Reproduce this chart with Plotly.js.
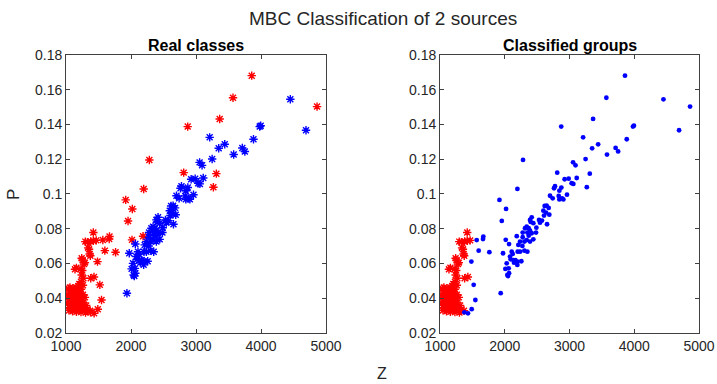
<!DOCTYPE html>
<html>
<head>
<meta charset="utf-8">
<script src="https://cdn.plot.ly/plotly-3.0.1.min.js"></script>
<style>html,body{margin:0;padding:0;background:#fff;}#chart{width:717px;height:384px;}</style>
</head>
<body>
<div id="chart"></div>
<script>
// Group A: real class 1, classified group 1
var zA = [1420,1297,1330,1380,1420,1465,1354,1340,1364,1374,1241,1255,1277,1290,1138,1160,1230,1250,1241,1267,1380,1430,1205,1230,1190,1260,
  1040,1060,1085,1110,1140,1170,1200,1230,1050,1075,1100,1125,1155,1185,1215,1260,1035,1065,1090,1120,1150,1180,1210,1245,1290,
  1040,1070,1100,1130,1160,1195,1230,1270,1030,1060,1090,1120,1150,1185,1220,1260,1310,1050,1080,1110,1140,1175,1210,1250,1290,1330,1370,
  1100,1160,1230,1300,1045];
var pA = [0.0778,0.0726,0.0722,0.0727,0.0730,0.0733,0.0682,0.0690,0.0655,0.0645,0.0630,0.0620,0.0597,0.0605,0.0567,0.0575,0.0570,0.0560,0.0534,0.0515,0.0515,0.0522,0.0482,0.0495,0.0470,0.0475,
  0.0455,0.0462,0.0450,0.0458,0.0448,0.0460,0.0445,0.0452,0.0435,0.0428,0.0440,0.0432,0.0425,0.0438,0.0430,0.0420,0.0415,0.0408,0.0418,0.0405,0.0412,0.0400,0.0410,0.0398,0.0405,
  0.0392,0.0385,0.0395,0.0380,0.0388,0.0378,0.0385,0.0375,0.0370,0.0362,0.0372,0.0358,0.0365,0.0355,0.0362,0.0350,0.0358,0.0345,0.0340,0.0348,0.0335,0.0342,0.0332,0.0338,0.0330,0.0335,0.0328,
  0.0325,0.0322,0.0320,0.0318,0.0330];
// Group B: real class 1, classified group 2
var zB = [3857,3569,3364,3313,3267,4862,2872,2282,2810,2195,1918,2020,1954,2185,2015,1669,1664,1566,1597,1762,1484,1520,1546,1489,1432,1376];
var pB = [0.1681,0.1554,0.1432,0.1117,0.1039,0.1503,0.1388,0.1196,0.1123,0.1029,0.0966,0.0914,0.0845,0.0757,0.0736,0.0755,0.0741,0.0735,0.0674,0.0665,0.0611,0.0477,0.0390,0.0337,0.0313,0.0319];
// Group C: real class 2, classified group 2
var zC = [4451,3995,3980,4692,3210,3884,3349,3442,3712,3751,3579,3248,3055,3093,3111,2925,2987,3033,3059,
  2874,2843,2761,2776,2699,2740,2833,2884,2905,2961,2843,
  2616,2647,2678,2596,2637,2688,2606,2529,2575,2544,2653,2488,
  2416,2390,2400,2441,2339,2369,2390,2313,2277,2349,2483,2416,2369,2441,2339,2303,2390,2236,2277,2210,2272,2199,2236,2303,2349,
  2066,1973,2107,2122,2081,2091,2133,2163,2199,2256,2143,2194,2030,2060,2009,2040,2050,2066,1937];
var pC = [0.1545,0.1393,0.1388,0.1367,0.1326,0.1315,0.1263,0.1286,0.1265,0.1245,0.1227,0.1201,0.1182,0.1165,0.1092,0.1085,0.1088,0.1062,0.1058,
  0.1037,0.1019,0.1033,0.1045,0.0990,0.0975,0.0989,0.0975,0.0969,0.0996,0.0969,
  0.0931,0.0933,0.0920,0.0904,0.0893,0.0881,0.0876,0.0851,0.0847,0.0835,0.0826,0.0806,
  0.0866,0.0851,0.0839,0.0832,0.0812,0.0803,0.0789,0.0803,0.0778,0.0778,0.0778,0.0774,0.0760,0.0739,0.0735,0.0726,0.0726,0.0726,0.0751,0.0707,0.0701,0.0668,0.0668,0.0674,0.0668,
  0.0712,0.0659,0.0668,0.0655,0.0640,0.0624,0.0620,0.0620,0.0611,0.0613,0.0605,0.0592,0.0601,0.0572,0.0569,0.0534,0.0528,0.0544,0.0429];

var xTicks = [1000,2000,3000,4000,5000];
var xTickText = ['1000','2000','3000','4000','5000'];
var yTicks = [0.02,0.04,0.06,0.08,0.1,0.12,0.14,0.16,0.18];
var yTickText = ['0.02','0.04','0.06','0.08','0.1','0.12','0.14','0.16','0.18'];

var RED = 'rgb(255,0,0)', BLUE = 'rgb(0,0,255)';
function star(c){return {symbol:'asterisk-open',size:7,color:c,line:{color:c,width:1.4}};}
function dot(c){return {symbol:'circle',size:4.8,color:c,line:{width:0}};}

var realRedZ = zA.concat(zB), realRedP = pA.concat(pB);
var grpBlueZ = zB.concat(zC), grpBlueP = pB.concat(pC);

var traces = [
  {x:realRedZ,y:realRedP,mode:'markers',type:'scatter',marker:star(RED),xaxis:'x',yaxis:'y',hoverinfo:'none'},
  {x:zC,y:pC,mode:'markers',type:'scatter',marker:star(BLUE),xaxis:'x',yaxis:'y',hoverinfo:'none'},
  {x:zA,y:pA,mode:'markers',type:'scatter',marker:star(RED),xaxis:'x2',yaxis:'y2',hoverinfo:'none'},
  {x:grpBlueZ,y:grpBlueP,mode:'markers',type:'scatter',marker:dot(BLUE),xaxis:'x2',yaxis:'y2',hoverinfo:'none'}
];

var txt = '#262626', ln = '#404040';
var FONT = 'Liberation Sans, Arial, Helvetica, sans-serif';
function xax(dom, anchor){return {domain:dom,anchor:anchor,range:[1000,5000],tickvals:xTicks,ticktext:xTickText,
  ticks:'inside',ticklen:4,tickcolor:ln,showline:true,linecolor:ln,linewidth:1,mirror:'ticks',showgrid:false,zeroline:false,
  tickfont:{size:14,color:txt,family:FONT}};}
function yax(anchor){return {domain:[0.1328,0.8568],anchor:anchor,range:[0.02,0.18],tickvals:yTicks,ticktext:yTickText,
  ticks:'inside',ticklen:4,tickcolor:ln,showline:true,linecolor:ln,linewidth:1,mirror:'ticks',showgrid:false,zeroline:false,
  tickfont:{size:14,color:txt,family:FONT}};}

var layout = {
  width:717,height:384,margin:{l:0,r:0,t:0,b:0},showlegend:false,
  paper_bgcolor:'#fff',plot_bgcolor:'#fff',font:{family:FONT,color:txt},
  xaxis:xax([0.0921,0.4547],'y'), yaxis:yax('x'),
  xaxis2:xax([0.6137,0.9749],'y2'), yaxis2:yax('x2'),
  annotations:[
    {text:'MBC Classification of 2 sources',xref:'paper',yref:'paper',x:383/717,y:1-18/384,showarrow:false,font:{size:19,color:txt},xanchor:'center',yanchor:'middle'},
    {text:'<b>Real classes</b>',xref:'paper',yref:'paper',x:(0.0921+0.4547)/2,y:1-46/384,showarrow:false,font:{size:16,color:'#000'},xanchor:'center',yanchor:'middle'},
    {text:'<b>Classified groups</b>',xref:'paper',yref:'paper',x:(0.6137+0.9749)/2,y:1-46/384,showarrow:false,font:{size:16,color:'#000'},xanchor:'center',yanchor:'middle'},
    {text:'Z',xref:'paper',yref:'paper',x:382/717,y:1-373/384,showarrow:false,font:{size:16,color:txt},xanchor:'center',yanchor:'middle',borderpad:0},
    {text:'P',xref:'paper',yref:'paper',x:13/717,y:1-194/384,showarrow:false,textangle:-90,font:{size:17,color:txt},xanchor:'center',yanchor:'middle'}
  ]
};
Plotly.newPlot('chart',traces,layout,{staticPlot:true,displayModeBar:false});
</script>
</body>
</html>
